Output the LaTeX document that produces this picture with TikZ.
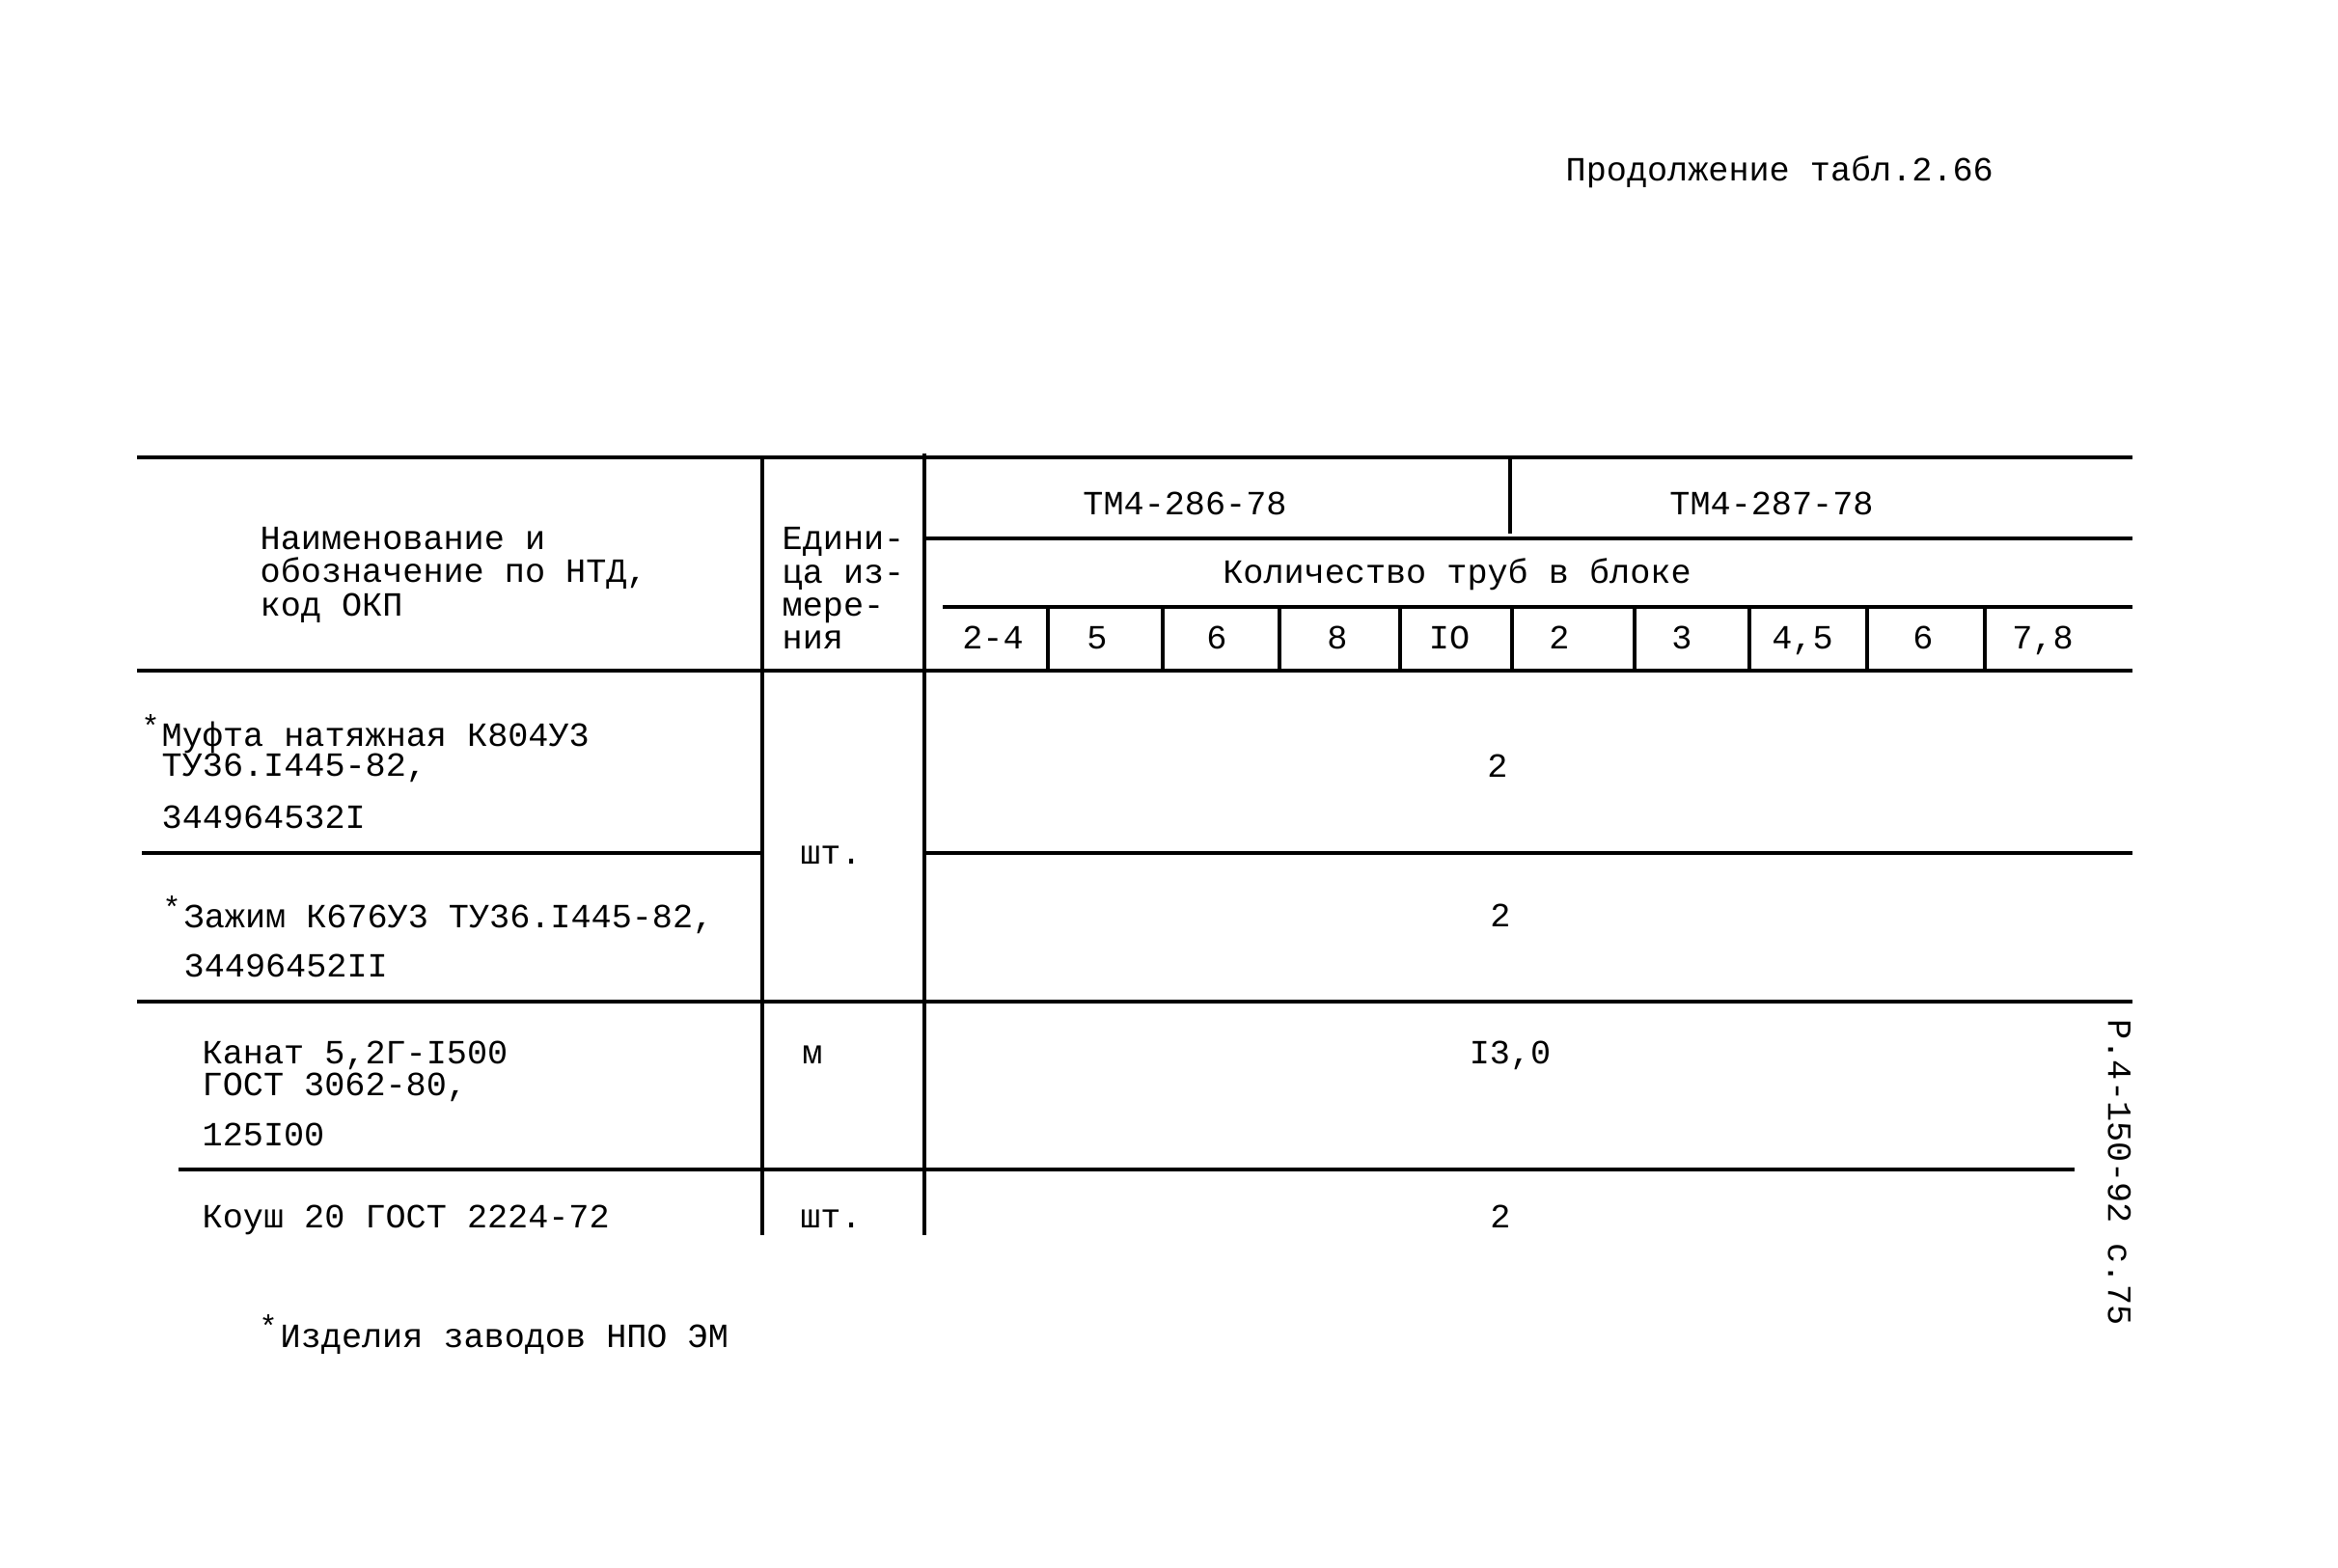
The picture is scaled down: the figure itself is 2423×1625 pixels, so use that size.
\documentclass[tikz,border=0pt]{standalone}
\usepackage{fontspec}
\setmainfont{Liberation Mono}
\begin{document}
\begin{tikzpicture}[x=0.01cm,y=-0.01cm,
  rule/.style={line width=1.1pt,black},
  txt/.style={inner sep=0pt,text height=1.6ex,text depth=0.4ex,font=\fontsize{10}{10}\selectfont},
  ltxt/.style={txt,anchor=west},
  ctxt/.style={txt,anchor=center},
  star/.style={inner sep=0pt,font=\fontsize{9}{9}\selectfont,anchor=west}]
\useasboundingbox (0,0) rectangle (2423,1625);
\fill[white] (0,0) rectangle (2423,1625);
% title
\node[ltxt] (title) at (1622,176) {Продолжение табл.2.66};
% rules
\draw[rule] (142,474) -- (2210,474);
\draw[rule] (790,474) -- (790,1280);
\draw[rule] (958,470) -- (958,1280);
\draw[rule] (1565,474) -- (1565,553);
\draw[rule] (958,558) -- (2210,558);
\draw[rule] (977,629) -- (2210,629);
\foreach \x in {1086,1205,1326,1451,1567,1694,1813,1935,2057}
  \draw[rule] (\x,629) -- (\x,695);
\draw[rule] (142,695) -- (2210,695);
\draw[rule] (147,884) -- (790,884);
\draw[rule] (958,884) -- (2210,884);
\draw[rule] (142,1038) -- (2210,1038);
\draw[rule] (185,1212) -- (2150,1212);
% header col 1
\node[ltxt] (h1a) at (269,558) {Наименование и};
\node[ltxt] (h1b) at (269,592) {обозначение по НТД,};
\node[ltxt] (h1c) at (269,627) {код ОКП};
% header col 2
\node[ltxt] (h2a) at (810,558) {Едини-};
\node[ltxt] (h2b) at (810,593) {ца из-};
\node[ltxt] (h2c) at (810,627) {мере-};
\node[ltxt] (h2d) at (810,661) {ния};
% header groups
\node[ctxt] (g1) at (1228,522) {ТМ4-286-78};
\node[ctxt] (g2) at (1836,522) {ТМ4-287-78};
\node[ctxt] (qty) at (1510,593) {Количество труб в блоке};
\node[ctxt] (s1) at (1029,661) {2-4};
\node[ctxt] (s2) at (1137,661) {5};
\node[ctxt] (s3) at (1261,661) {6};
\node[ctxt] (s4) at (1386,661) {8};
\node[ctxt] (s5) at (1502,661) {IO};
\node[ctxt] (s6) at (1616,661) {2};
\node[ctxt] (s7) at (1743,661) {3};
\node[ctxt] (s8) at (1868,661) {4,5};
\node[ctxt] (s9) at (1993,661) {6};
\node[ctxt] (s10) at (2117,661) {7,8};
% row 1
\node[star] (r1s) at (146,752) {*};
\node[ltxt] (r1a) at (167,762) {Муфта натяжная К804У3};
\node[ltxt] (r1b) at (167,793) {ТУ36.I445-82,};
\node[ltxt] (r1c) at (167,847) {344964532I};
\node[ctxt] (v1) at (1552,794) {2};
\node[ctxt] (u1) at (861,884) {шт.};
% row 2
\node[star] (r2s) at (168,940) {*};
\node[ltxt] (r2a) at (190,950) {Зажим К676У3 ТУ36.I445-82,};
\node[ltxt] (r2b) at (190,1001) {34496452II};
\node[ctxt] (v2) at (1555,949) {2};
% row 3
\node[ltxt] (r3a) at (209,1091) {Канат 5,2Г-I500};
\node[ltxt] (r3b) at (209,1124) {ГОСТ 3062-80,};
\node[ltxt] (r3c) at (209,1176) {125I00};
\node[ctxt] (u3) at (842,1091) {м};
\node[ctxt] (v3) at (1565,1091) {I3,0};
% row 4
\node[ltxt] (r4a) at (209,1261) {Коуш 20 ГОСТ 2224-72};
\node[ctxt] (u4) at (861,1261) {шт.};
\node[ctxt] (v4) at (1555,1261) {2};
% footnote
\node[star] (fs) at (268,1374) {*};
\node[ltxt] (fn) at (290,1385) {Изделия заводов НПО ЭМ};
% side text
\node[ctxt,rotate=-90] (side) at (2196,1215) {Р.4-150-92 с.75};
\end{tikzpicture}
\end{document}
